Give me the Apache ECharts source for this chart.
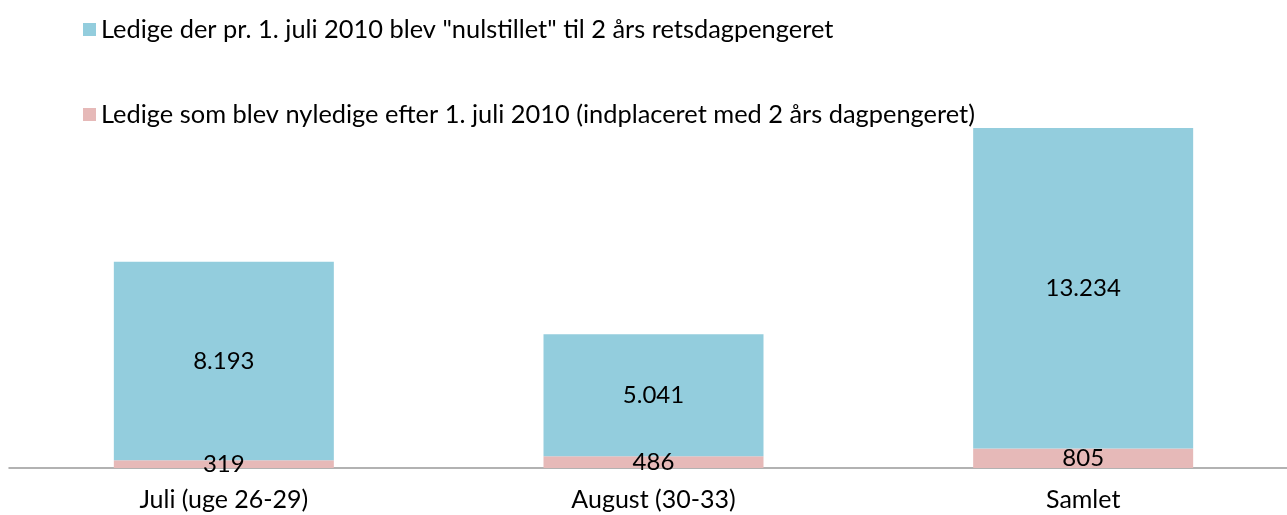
<!DOCTYPE html>
<html><head><meta charset="utf-8">
<script src="https://cdn.jsdelivr.net/npm/echarts@6/dist/echarts.min.js"></script>
<style>html,body{margin:0;padding:0;background:#fff;overflow:hidden;width:1287px;height:515px}#c{width:1298px;height:515px}</style>
</head><body><div id="c"></div>
<script>
var categories = ['Juli (uge 26-29)', 'August (30-33)', 'Samlet'];
var seriesNames = ['Ledige der pr. 1. juli 2010 blev "nulstillet" til 2 års retsdagpengeret', 'Ledige som blev nyledige efter 1. juli 2010 (indplaceret med 2 års dagpengeret)'];
var nulstillet = [8193, 5041, 13234];
var nyledige = [319, 486, 805];

function fmt(v){ return String(v).replace(/\B(?=(\d{3})+(?!\d))/g, '.'); }
var font = 'Lato, "Open Sans", sans-serif';
var legendText = { fontFamily: font, fontSize: 25.4, color: '#000' };
var chart = echarts.init(document.getElementById('c'));
chart.setOption({
  animation: false,
  legend: [
    { left: 78, top: 12, itemWidth: 13, itemHeight: 13, icon: 'rect', textStyle: legendText, data: [seriesNames[0]] },
    { left: 78, top: 97, itemWidth: 13, itemHeight: 13, icon: 'rect', textStyle: legendText, data: [seriesNames[1]] }
  ],
  grid: { left: 9, right: 0, top: 128, bottom: 47, containLabel: false },
  xAxis: {
    type: 'category', data: categories,
    axisLine: { lineStyle: { color: '#999', width: 1.5 } },
    axisTick: { show: false },
    axisLabel: { fontFamily: font, fontSize: 25, color: '#000', margin: 19 }
  },
  yAxis: { type: 'value', min: 0, max: 14039, show: false, splitLine: { show: false } },
  series: [
    { name: seriesNames[1], type: 'bar', stack: 's', data: nyledige, barWidth: 220,
      itemStyle: { color: '#E6B9B8' },
      label: { show: true, position: 'inside', fontFamily: font, fontSize: 24, color: '#000', formatter: function(p){return fmt(p.value);} } },
    { name: seriesNames[0], type: 'bar', stack: 's', data: nulstillet, barWidth: 220,
      itemStyle: { color: '#93CDDD' },
      label: { show: true, position: 'inside', fontFamily: font, fontSize: 24, color: '#000', formatter: function(p){return fmt(p.value);} } }
  ]
});
</script></body></html>
